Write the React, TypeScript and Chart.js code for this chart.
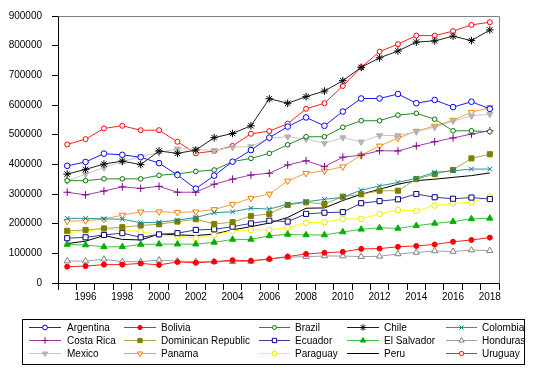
import React, { useEffect, useRef } from 'react';
import { Chart, registerables } from 'chart.js';
import { drawPoint } from 'chart.js/helpers';

Chart.register(...registerables);

const years = ['1995','1996','1997','1998','1999','2000','2001','2002','2003','2004','2005','2006','2007','2008','2009','2010','2011','2012','2013','2014','2015','2016','2017','2018'];

const yTicks = [0, 100000, 200000, 300000, 400000, 500000, 600000, 700000, 800000, 900000];

const argentina = [395000,408000,436000,432000,424000,404000,364000,318000,362000,409000,448000,490000,527000,558000,530000,578000,622000,622000,637000,606000,617000,593000,611000,587000];
const bolivia = [55000,57000,62000,62000,66000,61000,71000,68000,72000,77000,75000,81000,89000,98000,102000,105000,115000,116000,122000,125000,130000,139000,145000,153000];
const brazil = [345000,345000,351000,351000,351000,363000,368000,376000,381000,409000,420000,437000,466000,493000,493000,525000,547000,547000,566000,572000,552000,513000,513000,510000];
const chile = [367000,383000,401000,411000,399000,445000,437000,448000,490000,504000,530000,621000,606000,628000,647000,682000,727000,759000,782000,812000,816000,832000,817000,853000];
const colombia = [218000,218000,216000,215000,203000,205000,212000,221000,237000,240000,252000,249000,266000,274000,282000,289000,313000,327000,339000,353000,373000,378000,384000,384000];
const costaRica = [306000,297000,310000,324000,319000,326000,306000,306000,333000,350000,364000,370000,398000,412000,392000,424000,431000,446000,445000,462000,476000,489000,502000,513000];
const dominicanRepublic = [176000,179000,184000,188000,194000,198000,207000,215000,199000,205000,226000,233000,263000,272000,266000,291000,299000,311000,311000,350000,367000,381000,420000,434000];
const ecuador = [151000,154000,162000,168000,154000,164000,168000,179000,181000,190000,201000,210000,207000,233000,237000,239000,269000,276000,282000,300000,289000,284000,288000,283000];
const elSalvador = [130000,128000,122000,122000,130000,131000,131000,131000,137000,147000,147000,159000,164000,162000,162000,172000,181000,186000,184000,193000,201000,207000,216000,218000];
const honduras = [74000,74000,80000,72000,72000,77000,74000,72000,72000,72000,73000,81000,87000,89000,91000,91000,89000,90000,98000,103000,108000,106000,111000,109000];
const mexico = [344000,367000,389000,409000,426000,440000,452000,451000,447000,458000,460000,488000,493000,485000,471000,490000,476000,497000,497000,510000,525000,546000,563000,569000];
const panama = [208000,210000,215000,229000,240000,240000,238000,240000,248000,265000,286000,300000,344000,370000,378000,392000,431000,462000,488000,512000,529000,549000,575000,592000];
const paraguay = [168000,176000,181000,179000,173000,162000,158000,151000,162000,176000,179000,179000,186000,203000,205000,216000,216000,233000,246000,243000,261000,269000,272000,291000];
const peru = [133000,141000,160000,147000,145000,165000,162000,160000,165000,179000,190000,202000,221000,252000,253000,278000,299000,316000,333000,345000,350000,356000,362000,371000];
const uruguay = [467000,485000,521000,530000,515000,515000,476000,437000,445000,462000,503000,512000,537000,587000,606000,664000,727000,780000,805000,834000,834000,849000,870000,879000];

const series = [
  { name: 'Argentina', data: argentina, line: '#1a1aff', mk: '#0000ff', style: 'circle', r: 2.8, fill: '#ffffff', rot: 0 },
  { name: 'Bolivia', data: bolivia, line: '#ff2020', mk: '#ff0000', style: 'circle', r: 2.5, fill: '#ff0000', rot: 0 },
  { name: 'Brazil', data: brazil, line: '#2a8a2a', mk: '#007000', style: 'circle', r: 2.3, fill: '#ffffff', rot: 0 },
  { name: 'Chile', data: chile, line: '#202020', mk: '#000000', style: 'star', r: 3.8, fill: '#000000', rot: 0 },
  { name: 'Colombia', data: colombia, line: '#2e9494', mk: '#008080', style: 'crossRot', r: 3.4, fill: '#008080', rot: 0 },
  { name: 'Costa Rica', data: costaRica, line: '#a040a8', mk: '#800080', style: 'cross', r: 3.8, fill: '#800080', rot: 0 },
  { name: 'Dominican Republic', data: dominicanRepublic, line: '#a8a850', mk: '#808000', style: 'rect', r: 3.6, fill: '#808000', rot: 0 },
  { name: 'Ecuador', data: ecuador, line: '#3a3a9a', mk: '#000080', style: 'rect', r: 3.6, fill: '#ffffff', rot: 0 },
  { name: 'El Salvador', data: elSalvador, line: '#40c040', mk: '#00b000', style: 'triangle', r: 3.6, fill: '#00b000', rot: 0 },
  { name: 'Honduras', data: honduras, line: '#a0a0a0', mk: '#808080', style: 'triangle', r: 3.6, fill: '#ffffff', rot: 0 },
  { name: 'Mexico', data: mexico, line: '#c8c8c8', mk: '#b4b4b4', style: 'triangle', r: 3.6, fill: '#b4b4b4', rot: 180 },
  { name: 'Panama', data: panama, line: '#f4a040', mk: '#f08000', style: 'triangle', r: 3.6, fill: '#ffffff', rot: 180 },
  { name: 'Paraguay', data: paraguay, line: '#ffff00', mk: '#e8e800', style: 'circle', r: 2.8, fill: '#ffffff', rot: 0 },
  { name: 'Peru', data: peru, line: '#000000', mk: '#000000', style: 'circle', r: 0, fill: '#000000', rot: 0 },
  { name: 'Uruguay', data: uruguay, line: '#ff2020', mk: '#ff0000', style: 'circle', r: 2.5, fill: '#ffffff', rot: 0 },
];

const FONT = 'Liberation Sans, Arial, sans-serif';

const legendCols = [
  { l: 29, r: 61, t: 67 },
  { l: 124, r: 156, t: 161 },
  { l: 259, r: 290, t: 295 },
  { l: 347, r: 379, t: 384 },
  { l: 446, r: 477, t: 482 },
];
const legendRows = [327.5, 340.5, 353.5];

const framePlugin = {
  id: 'frameAndLegend',
  afterDraw(chart: any) {
    const ctx = chart.ctx;
    const a = chart.chartArea;
    ctx.save();
    // top and right frame
    ctx.strokeStyle = '#808080';
    ctx.lineWidth = 1;
    ctx.beginPath();
    ctx.moveTo(Math.round(a.left) + 0.5, Math.round(a.top) + 0.5);
    ctx.lineTo(Math.round(a.right) + 0.5, Math.round(a.top) + 0.5);
    ctx.lineTo(Math.round(a.right) + 0.5, Math.round(a.bottom) + 0.5);
    ctx.stroke();

    // legend box
    ctx.strokeStyle = '#000000';
    ctx.strokeRect(22.5, 319.5, 502, 45);
    ctx.font = '10px ' + FONT;
    ctx.textBaseline = 'middle';
    ctx.textAlign = 'left';
    series.forEach((s, i) => {
      const c = legendCols[i % 5];
      const y = legendRows[Math.floor(i / 5)];
      ctx.strokeStyle = s.line;
      ctx.lineWidth = 1;
      ctx.beginPath();
      ctx.moveTo(c.l, y);
      ctx.lineTo(c.r, y);
      ctx.stroke();
      if (s.r > 0) {
        ctx.strokeStyle = s.mk;
        ctx.fillStyle = s.fill;
        drawPoint(ctx, { pointStyle: s.style, rotation: s.rot, radius: s.r * 0.85, borderWidth: 1 }, (c.l + c.r) / 2, y);
      }
      ctx.fillStyle = '#000000';
      ctx.fillText(s.name, c.t, y + 0.5);
    });
    ctx.restore();
  },
};

export default function App() {
  const ref = useRef<HTMLCanvasElement>(null);
  useEffect(() => {
    if (!ref.current) return;
    Chart.defaults.font.family = FONT;
    Chart.defaults.font.size = 10;
    Chart.defaults.color = '#000000';
    const chart = new Chart(ref.current, {
      type: 'line',
      data: {
        labels: years,
        datasets: series.map((s) => ({
          label: s.name,
          data: s.data,
          borderColor: s.line,
          borderWidth: 1,
          backgroundColor: s.fill,
          pointStyle: s.style as any,
          pointRadius: s.r,
          pointRotation: s.rot,
          pointBorderColor: s.mk,
          pointBackgroundColor: s.fill,
          pointBorderWidth: 1,
          tension: 0,
          fill: false,
        })),
      },
      options: {
        animation: false,
        responsive: false,
        layout: { padding: { left: 0, right: 46, top: 16, bottom: 72 } },
        plugins: { legend: { display: false }, tooltip: { enabled: false } },
        scales: {
          x: {
            type: 'category',
            offset: true,
            grid: { offset: true, drawOnChartArea: false, drawTicks: true, tickLength: 7, color: '#000000', lineWidth: 1 },
            border: { display: true, color: '#000000' },
            ticks: {
              autoSkip: false,
              maxRotation: 0,
              minRotation: 0,
              padding: 1,
              color: '#000000',
              font: { size: 10, family: FONT },
              callback: (_v: any, i: number) => (i % 2 === 1 ? years[i] : ''),
            },
            afterFit: (s: any) => { s.height = 17; },
          },
          y: {
            min: yTicks[0],
            max: yTicks[yTicks.length - 1],
            afterBuildTicks: (s: any) => { s.ticks = yTicks.map((v) => ({ value: v })); },
            grid: { drawOnChartArea: false, drawTicks: true, tickLength: 6, color: '#000000' },
            border: { display: true, color: '#000000' },
            ticks: {
              padding: 10,
              color: '#000000',
              font: { size: 10, family: FONT },
              callback: (v: any) => String(v),
            },
            afterFit: (s: any) => { s.width = 58; },
          },
        },
      },
      plugins: [framePlugin],
    });
    return () => chart.destroy();
  }, []);
  return (
    <div style={{ position: 'absolute', left: 0, top: 0, width: 545, height: 372, background: '#ffffff' }}>
      <canvas ref={ref} width={545} height={372} style={{ display: 'block', width: 545, height: 372 }} />
    </div>
  );
}
